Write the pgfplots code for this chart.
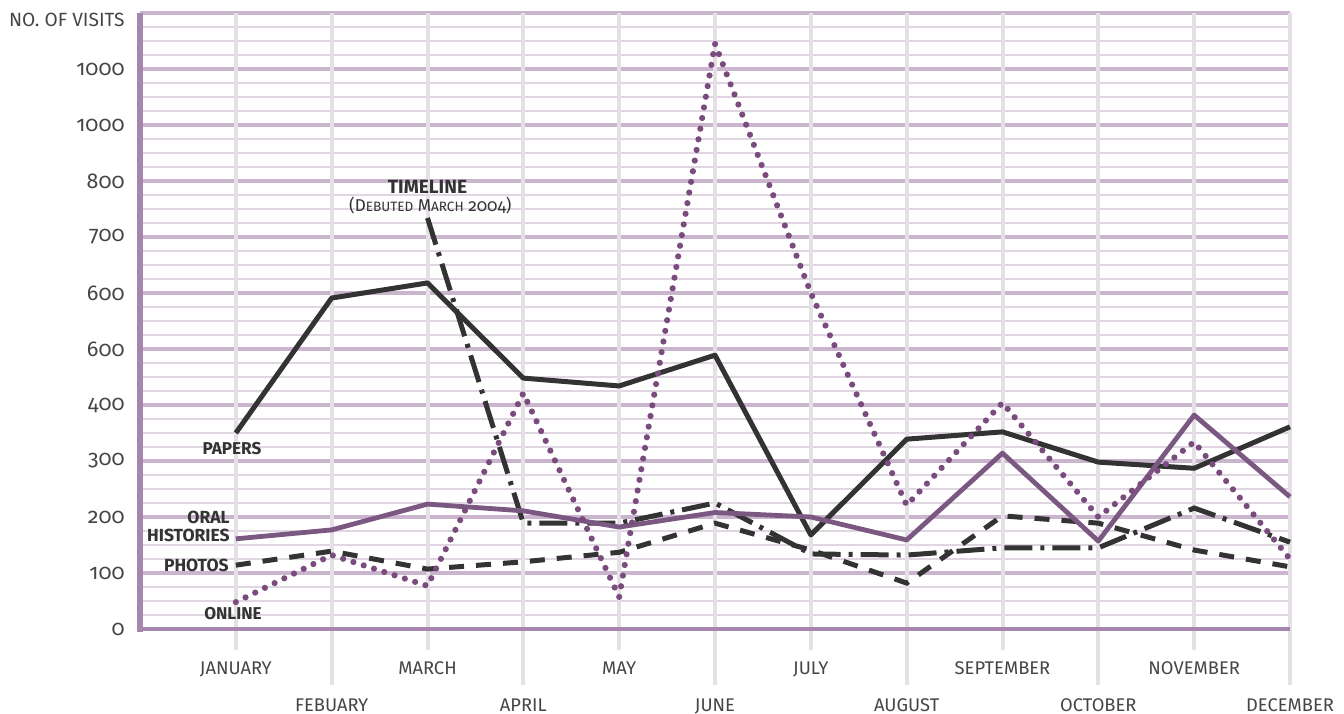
\documentclass[border=0pt]{standalone}
\usepackage{fontspec}
\setmainfont{Fira Sans}[Numbers=OldStyle]
\usepackage{pgfplots}
\pgfplotsset{compat=1.18}
\definecolor{dk}{HTML}{333333}
\definecolor{purp}{HTML}{7B5882}
\definecolor{dotp}{HTML}{7A4C7E}
\definecolor{gmaj}{HTML}{CBB5CE}
\definecolor{gmin}{HTML}{E0D6E2}
\definecolor{vgrid}{HTML}{E4E0E6}
\definecolor{axc}{HTML}{A586AC}
\definecolor{txt}{HTML}{454545}
\begin{document}
\begin{tikzpicture}
\begin{axis}[name=ax, scale only axis, width=575bp, height=308bp,
 xmin=-1, xmax=11, ymin=0, ymax=1100,
 axis line style={draw=none}, tick style={draw=none},
 ytick={0,100,...,1100},
 yticklabels={0,100,200,300,400,600,600,700,800,1000,1000,{}},
 minor y tick num=3, ymajorgrids, yminorgrids,
 major grid style={gmaj, line width=1.6bp},
 minor grid style={gmin, line width=0.7bp},
 xtick={0,2,...,10},
 xticklabels={JANUARY,MARCH,MAY,JULY,SEPTEMBER,NOVEMBER},
 extra x ticks={1,3,...,11},
 extra x tick labels={FEBUARY,APRIL,JUNE,AUGUST,OCTOBER,DECEMBER},
 extra x tick style={grid=none, xticklabel style={yshift=-18.5bp}},
 xticklabel style={anchor=north, inner sep=0pt, yshift=-16.3bp, font=\fontsize{9.2}{10}\selectfont, text=txt},
 yticklabel style={anchor=east, inner sep=0pt, xshift=-7.5bp, font=\fontsize{10.8}{12}\selectfont, text=txt},
 clip=false, no markers,
 /pgf/number format/assume math mode=true]
% vertical grid lines (decoration)
\pgfplotsinvokeforeach{0,2,4,6,8,10}{\draw[vgrid, line width=2bp] ([yshift=-10.5bp]axis cs:#1,0) -- (axis cs:#1,1100);}
\pgfplotsinvokeforeach{1,3,5,7,9,11}{\draw[vgrid, line width=2bp] ([yshift=-28bp]axis cs:#1,0) -- (axis cs:#1,1100);}
\draw[axc, line width=2.6bp] (axis cs:-1,1100) -- ([yshift=-1.5bp]axis cs:-1,0);
\draw[axc, line width=2.2bp] ([xshift=-1.3bp]axis cs:-1,0) -- (axis cs:11,0);
% Photos
\addplot[dk, line width=2.5bp, dash pattern=on 7.5bp off 6bp] coordinates {
(0,114)(1,139)(2,107)(3,120)(4,137)(5,189)(6,141)(7,82)(8,202)(9,189)(10,141)(11,111)};
% Timeline
\addplot[dk, line width=2.5bp, dash pattern=on 14bp off 4bp on 2bp off 4bp] coordinates {
(2,734)(3,189)(4,189)(5,225)(6,134)(7,132)(8,145)(9,145)(10,216)(11,155)};
% Papers
\addplot[dk, line width=2.5bp, line join=round] coordinates {
(0,350)(1,591)(2,618)(3,448)(4,434)(5,489)(6,168)(7,339)(8,352)(9,298)(10,287)(11,361)};
% Oral histories
\addplot[purp, line width=2.4bp, line join=round] coordinates {
(0,161)(1,177)(2,223)(3,211)(4,182)(5,208)(6,200)(7,159)(8,314)(9,157)(10,382)(11,236)};
% Online
\addplot[dotp, line width=3.1bp, line cap=round, dash pattern=on 0bp off 5.4bp] coordinates {
(0,48)(1,132)(2,77)(3,421)(4,57)(5,1045)(6,600)(7,221)(8,404)(9,200)(10,334)(11,125)};
% labels
\node[anchor=east, inner sep=0pt, text=txt, font=\fontsize{9.6}{10}\selectfont] at ([xshift=-7.5bp]axis cs:-1,1087) {NO.\ OF VISITS};
\node[text=dk, font=\bfseries\fontsize{8.6}{9}\selectfont] at (axis cs:-0.04,323) {PAPERS};
\node[anchor=east, align=right, inner sep=0pt, text=dk, font=\bfseries\fontsize{8.8}{9}\selectfont] at (axis cs:-0.06,184) {ORAL\\HISTORIES};
\node[anchor=east, inner sep=0pt, text=dk, font=\bfseries\fontsize{8.8}{9}\selectfont] at (axis cs:-0.07,114) {PHOTOS};
\node[text=dk, font=\bfseries\fontsize{8.6}{9}\selectfont] at (axis cs:-0.03,27) {ONLINE};
\node[text=dk, font=\bfseries\fontsize{9.6}{10}\selectfont] at (axis cs:2.0,789) {TIMELINE};
\node[text=dk, font=\fontsize{8.6}{9}\selectfont] at (axis cs:2.03,757) {(D{\fontsize{6.8}{7}\selectfont EBUTED} M{\fontsize{6.8}{7}\selectfont ARCH} 2004)};
\end{axis}
\pgfresetboundingbox
\path[use as bounding box] ([shift={(-70bp,-42.5bp)}]ax.south west) rectangle ([shift={(27bp,6.5bp)}]ax.north east);
\end{tikzpicture}
\end{document}
